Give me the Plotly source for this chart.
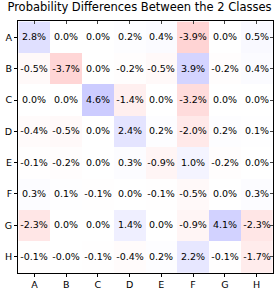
import plotly.graph_objects as go

labels = ["A", "B", "C", "D", "E", "F", "G", "H"]
values = [
    [2.8, 0.0, 0.0, 0.2, 0.4, -3.9, 0.0, 0.5],
    [-0.5, -3.7, 0.0, -0.2, -0.5, 3.9, -0.2, 0.4],
    [0.0, 0.0, 4.6, -1.4, 0.0, -3.2, 0.0, 0.0],
    [-0.4, -0.5, 0.0, 2.4, 0.2, -2.0, 0.2, 0.1],
    [-0.1, -0.2, 0.0, 0.3, -0.9, 1.0, -0.2, 0.0],
    [0.3, 0.1, -0.1, 0.0, -0.1, -0.5, 0.0, 0.3],
    [-2.3, 0.0, 0.0, 1.4, 0.0, -0.9, 4.1, -2.3],
    [-0.1, -0.0, -0.1, -0.4, 0.2, 2.2, -0.1, -1.7],
]
text_labels = [
    ["2.8%", "0.0%", "0.0%", "0.2%", "0.4%", "-3.9%", "0.0%", "0.5%"],
    ["-0.5%", "-3.7%", "0.0%", "-0.2%", "-0.5%", "3.9%", "-0.2%", "0.4%"],
    ["0.0%", "0.0%", "4.6%", "-1.4%", "0.0%", "-3.2%", "0.0%", "0.0%"],
    ["-0.4%", "-0.5%", "0.0%", "2.4%", "0.2%", "-2.0%", "0.2%", "0.1%"],
    ["-0.1%", "-0.2%", "0.0%", "0.3%", "-0.9%", "1.0%", "-0.2%", "0.0%"],
    ["0.3%", "0.1%", "-0.1%", "0.0%", "-0.1%", "-0.5%", "0.0%", "0.3%"],
    ["-2.3%", "0.0%", "0.0%", "1.4%", "0.0%", "-0.9%", "4.1%", "-2.3%"],
    ["-0.1%", "-0.0%", "-0.1%", "-0.4%", "0.2%", "2.2%", "-0.1%", "-1.7%"],
]

font_family = "DejaVu Sans"

fig = go.Figure()
fig.add_trace(go.Heatmap(
    z=values, x=labels, y=labels,
    text=text_labels, texttemplate="%{text}",
    textfont=dict(family=font_family, size=9.5, color="black"),
    colorscale=[[0, "rgb(255,0,0)"], [0.5, "rgb(255,255,255)"], [1, "rgb(0,0,255)"]],
    zmin=-23, zmax=23, showscale=False, xgap=0, ygap=0,
))
# invisible trace to drive mirrored inside ticks
fig.add_trace(go.Scatter(x=labels, y=labels, xaxis="x2", yaxis="y2",
                         mode="markers", marker=dict(opacity=0), showlegend=False, hoverinfo="skip"))

fig.update_layout(
    width=279, height=298,
    margin=dict(l=15, r=5, t=21, b=25),
    paper_bgcolor="white", plot_bgcolor="white",
    title=dict(text="Probability Differences Between the 2 Classes",
               x=0.5, xanchor="center", y=0.99, yanchor="top",
               font=dict(family=font_family, size=11.5, color="black")),
    font=dict(family=font_family, size=9.5, color="black"),
    xaxis=dict(type="category", categoryorder="array", categoryarray=labels,
               ticks="outside", ticklen=3, tickcolor="black",
               showline=True, linecolor="black", linewidth=1, mirror=True,
               showgrid=False, zeroline=False, tickfont=dict(size=9.5)),
    yaxis=dict(type="category", categoryorder="array", categoryarray=labels,
               autorange="reversed",
               ticks="outside", ticklen=3, tickcolor="black",
               showline=True, linecolor="black", linewidth=1, mirror=True,
               showgrid=False, zeroline=False, tickfont=dict(size=9.5)),
    xaxis2=dict(type="category", categoryorder="array", categoryarray=labels,
                overlaying="x", side="top", matches="x", ticks="inside", ticklen=3,
                tickcolor="#444", showticklabels=False, showgrid=False, zeroline=False),
    yaxis2=dict(type="category", categoryorder="array", categoryarray=labels,
                overlaying="y", side="right", matches="y", ticks="inside", ticklen=3,
                tickcolor="#444", showticklabels=False, showgrid=False, zeroline=False),
)

fig.write_html("out.html", config={"displayModeBar": False},
               post_script="document.body.style.margin='0';")
